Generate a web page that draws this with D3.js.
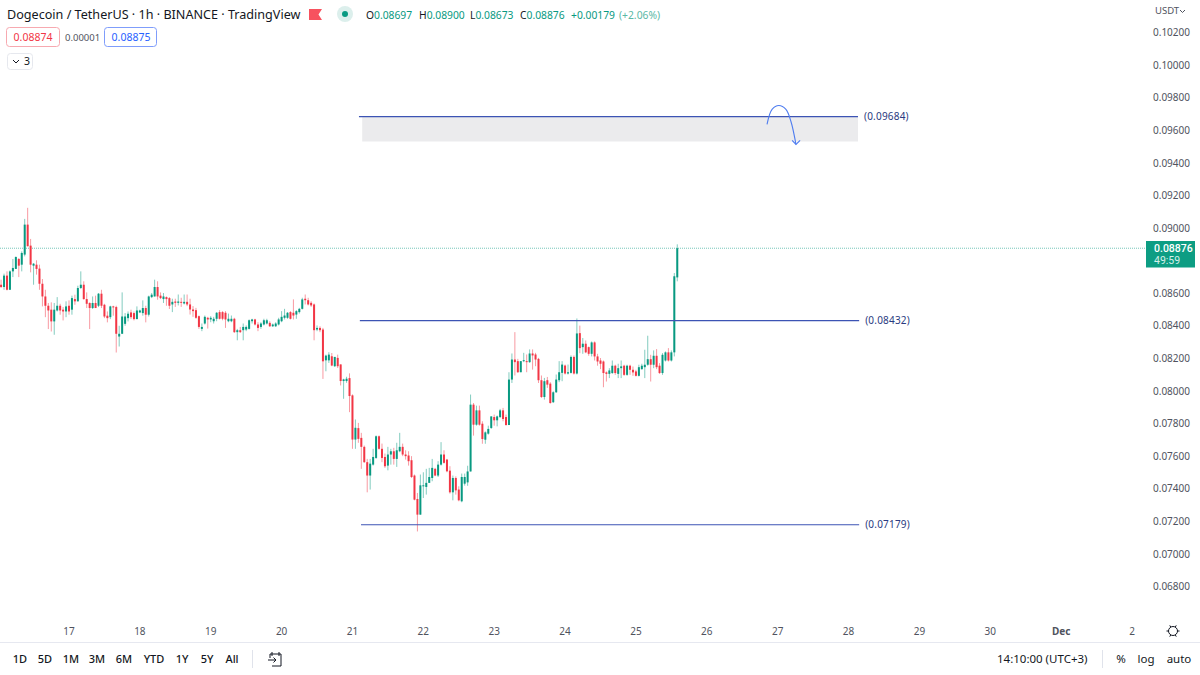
<!DOCTYPE html>
<html><head><meta charset="utf-8">
<script src="https://d3js.org/d3.v7.min.js"></script>
<style>html,body{margin:0;padding:0;background:#fff}svg{display:block}text{font-family:"Noto Sans",sans-serif}</style>
</head><body><svg id="c" width="1200" height="675"></svg>
<script>
// Candles are hourly; the first one opens at 2021-11-16 01:00.
const firstCandle = Date.UTC(2021,10,16,1);
const opens = [
.08652,.08638,.08708,.08621,.08734,.08749,.08810,.08775,.08837,.09021,
.08892,.08769,.08775,.08751,.08658,.08580,.08523,.08499,.08427,.08494,
.08523,.08499,.08488,.08523,.08499,.08564,.08550,.08632,.08652,.08564,
.08540,.08509,.08540,.08523,.08597,.08529,.08462,.08453,.08519,.08515,
.08334,.08351,.08412,.08447,.08482,.08478,.08441,.08482,.08478,.08509,
.08468,.08576,.08580,.08638,.08585,.08564,.08576,.08570,.08531,.08549,
.08541,.08547,.08537,.08547,.08531,.08500,.08496,.08459,.08381,.08414,
.08449,.08439,.08428,.08443,.08484,.08484,.08480,.08428,.08428,.08443,
.08361,.08373,.08373,.08377,.08381,.08428,.08439,.08408,.08393,.08408,
.08414,.08418,.08397,.08397,.08408,.08428,.08449,.08449,.08484,.08480,
.08469,.08484,.08504,.08566,.08557,.08541,.08531,.08377,.08387,.08377,
.08188,.08188,.08213,.08152,.08203,.08163,.08061,.08061,.08079,.07973,
.07702,.07772,.07712,.07657,.07563,.07481,.07548,.07589,.07722,.07645,
.07595,.07542,.07610,.07630,.07583,.07630,.07657,.07610,.07604,.07575,
.07481,.07337,.07241,.07415,.07411,.07436,.07466,.07522,.07481,.07548,
.07610,.07579,.07511,.07378,.07466,.07395,.07323,.07431,.07439,.07506,
.07916,.07793,.07881,.07799,.07701,.07738,.07773,.07840,.07820,.07840,
.07881,.07840,.07791,.08070,.08193,.08183,.08115,.08183,.08183,.08177,
.08230,.08224,.08197,.08066,.07963,.08066,.08045,.07931,.07992,.08066,
.08111,.08156,.08107,.08111,.08209,.08107,.08355,.08269,.08290,.08269,
.08228,.08298,.08212,.08187,.08181,.08114,.08105,.08110,.08155,.08105,
.08140,.08155,.08099,.08155,.08130,.08120,.08093,.08134,.08146,.08161,
.08195,.08161,.08216,.08155,.08110,.08187,.08237,.08187,.08237,.08697];
const highs = [
.08683,.08720,.08734,.08740,.08810,.08826,.08816,.08857,.09056,.09124,
.08933,.08785,.08802,.08775,.08687,.08621,.08540,.08544,.08540,.08576,
.08535,.08515,.08550,.08556,.08585,.08591,.08646,.08734,.08673,.08605,
.08544,.08580,.08585,.08601,.08621,.08535,.08488,.08523,.08523,.08523,
.08400,.08605,.08478,.08488,.08499,.08488,.08519,.08499,.08556,.08523,
.08585,.08601,.08683,.08673,.08605,.08601,.08580,.08576,.08566,.08566,
.08592,.08572,.08592,.08592,.08566,.08521,.08510,.08463,.08414,.08463,
.08455,.08459,.08455,.08484,.08496,.08490,.08490,.08475,.08463,.08449,
.08381,.08393,.08414,.08402,.08439,.08443,.08443,.08422,.08422,.08443,
.08443,.08428,.08414,.08422,.08449,.08490,.08504,.08484,.08490,.08562,
.08496,.08510,.08572,.08592,.08572,.08551,.08537,.08402,.08397,.08387,
.08223,.08238,.08233,.08209,.08223,.08163,.08075,.08087,.08108,.07979,
.07825,.07804,.07743,.07665,.07583,.07583,.07645,.07727,.07727,.07677,
.07616,.07657,.07645,.07651,.07682,.07743,.07677,.07636,.07630,.07600,
.07487,.07374,.07487,.07501,.07522,.07528,.07583,.07528,.07569,.07686,
.07636,.07583,.07538,.07481,.07476,.07415,.07493,.07493,.07541,.07978,
.07926,.07910,.07910,.07814,.07752,.07787,.07844,.07855,.07849,.07890,
.07896,.07855,.08115,.08230,.08361,.08197,.08183,.08234,.08224,.08255,
.08255,.08234,.08203,.08095,.08080,.08086,.08054,.07998,.08101,.08183,
.08183,.08162,.08162,.08218,.08218,.08445,.08401,.08325,.08310,.08273,
.08304,.08304,.08228,.08202,.08187,.08120,.08140,.08187,.08161,.08167,
.08187,.08161,.08161,.08161,.08150,.08130,.08161,.08167,.08253,.08339,
.08222,.08249,.08257,.08171,.08232,.08243,.08263,.08249,.08724,.08900];
const lows = [
.08632,.08621,.08617,.08621,.08699,.08749,.08699,.08734,.08826,.08888,
.08728,.08652,.08714,.08621,.08519,.08453,.08380,.08365,.08345,.08488,
.08468,.08433,.08453,.08468,.08468,.08529,.08550,.08626,.08560,.08509,
.08380,.08503,.08509,.08515,.08509,.08447,.08421,.08441,.08462,.08236,
.08273,.08351,.08400,.08427,.08441,.08433,.08441,.08478,.08462,.08421,
.08457,.08570,.08580,.08560,.08564,.08540,.08523,.08503,.08484,.08516,
.08525,.08516,.08531,.08521,.08469,.08455,.08443,.08381,.08367,.08408,
.08383,.08422,.08414,.08428,.08439,.08434,.08387,.08422,.08422,.08356,
.08311,.08356,.08311,.08367,.08377,.08414,.08402,.08367,.08381,.08402,
.08408,.08393,.08393,.08393,.08402,.08422,.08439,.08443,.08439,.08439,
.08443,.08475,.08500,.08531,.08525,.08516,.08311,.08367,.08361,.08074,
.08121,.08172,.08152,.08147,.08141,.08034,.07952,.08050,.07870,.07645,
.07645,.07682,.07522,.07559,.07378,.07395,.07542,.07583,.07640,.07563,
.07528,.07513,.07548,.07548,.07534,.07624,.07600,.07579,.07542,.07466,
.07329,.07138,.07241,.07343,.07364,.07436,.07446,.07477,.07472,.07542,
.07554,.07501,.07370,.07329,.07364,.07323,.07317,.07419,.07418,.07506,
.07726,.07787,.07787,.07676,.07676,.07732,.07767,.07787,.07783,.07834,
.07814,.07787,.07791,.08049,.08095,.08111,.08115,.08177,.08115,.08172,
.08131,.08152,.08049,.07957,.07947,.08019,.07922,.07926,.07988,.08054,
.08060,.08101,.08101,.08107,.08101,.08101,.08232,.08228,.08232,.08216,
.08212,.08187,.08155,.08134,.08023,.08058,.08079,.08105,.08099,.08079,
.08079,.08093,.08093,.08099,.08093,.08089,.08089,.08130,.08079,.08155,
.08058,.08140,.08134,.08105,.08099,.08181,.08181,.08181,.08212,.08673];
const closes = [
.08638,.08708,.08621,.08734,.08755,.08822,.08769,.08847,.09021,.08888,
.08775,.08781,.08749,.08658,.08580,.08523,.08494,.08427,.08499,.08523,
.08494,.08488,.08519,.08488,.08570,.08550,.08632,.08652,.08564,.08535,
.08509,.08540,.08509,.08597,.08523,.08457,.08447,.08519,.08513,.08351,
.08351,.08457,.08457,.08474,.08453,.08441,.08494,.08494,.08509,.08468,
.08580,.08591,.08638,.08580,.08570,.08580,.08564,.08523,.08547,.08541,
.08549,.08541,.08547,.08531,.08500,.08490,.08449,.08393,.08393,.08455,
.08439,.08449,.08443,.08480,.08443,.08443,.08439,.08443,.08443,.08361,
.08373,.08361,.08393,.08393,.08434,.08439,.08408,.08387,.08414,.08434,
.08434,.08397,.08408,.08414,.08439,.08455,.08463,.08480,.08443,.08463,
.08490,.08504,.08562,.08557,.08531,.08525,.08373,.08387,.08373,.08182,
.08217,.08223,.08156,.08209,.08152,.08061,.08071,.08075,.07969,.07702,
.07774,.07706,.07657,.07563,.07481,.07554,.07595,.07722,.07645,.07589,
.07538,.07610,.07630,.07583,.07636,.07657,.07610,.07600,.07569,.07472,
.07333,.07241,.07421,.07421,.07436,.07472,.07528,.07481,.07548,.07610,
.07559,.07507,.07378,.07466,.07390,.07329,.07472,.07472,.07506,.07916,
.07793,.07881,.07793,.07705,.07746,.07767,.07844,.07820,.07844,.07881,
.07828,.07791,.08070,.08193,.08177,.08115,.08183,.08189,.08177,.08230,
.08218,.08193,.08066,.07963,.08060,.08039,.07926,.07992,.08070,.08115,
.08162,.08107,.08115,.08209,.08107,.08353,.08263,.08290,.08237,.08228,
.08298,.08212,.08181,.08167,.08110,.08105,.08126,.08155,.08110,.08140,
.08151,.08099,.08155,.08130,.08114,.08093,.08146,.08155,.08161,.08195,
.08161,.08216,.08146,.08110,.08222,.08237,.08187,.08237,.08704,.08876];

const priceTicks = [.102,.1,.098,.096,.094,.092,.09,.086,.084,.082,.08,.078,.076,.074,.072,.07,.068];
const dayTicks = [17,18,19,20,21,22,23,24,25,26,27,28,29,30,'Dec',2];
const rangeButtons = ['1D','5D','1M','3M','6M','YTD','1Y','5Y','All'];
const levels = [.09684,.08432,.07179];
const levelStartHours = [98.2,98.5,98.9];   // hours after 17 Nov 00:00
const levelEndHours = [267.2,267.6,267.6];
const zone = {startHour:99.3,endHour:267.2,top:.09684,bottom:.09531};
const arrowHours = [236.4,238.1,240.4,242.8,244.5,246.2];
const arrowPrices = [.09636,.09728,.09752,.09728,.09654,.09513];
const arrowHeadHours = [244.9,246.2,247.6];
const arrowHeadPrices = [.09538,.09513,.09538];
const lastPrice = .08876;

const GREEN='#089981',RED='#f23645',INK='#131722',GREY='#50535e',LINE='#3c53b4';
const svg=d3.select('#c');
const H=3600e3, t0=Date.UTC(2021,10,17);
const x=d3.scaleUtc().domain([new Date(t0),new Date(Date.UTC(2021,11,2))]).range([69,1132]);
const xh=h=>x(new Date(t0+h*H));
const y=d3.scaleLinear().domain([.068,.102]).range([586.5,32.5]);

// axes
const py=svg.append('g').attr('transform','translate(1153,0)')
  .call(d3.axisRight(y).tickValues(priceTicks).tickSize(0).tickPadding(0).tickFormat(d3.format('.5f')));
py.select('.domain').remove();
py.selectAll('text').attr('font-size',10).attr('fill',GREY).style('font-family','"Noto Sans"');

const dayDate=d=>d==='Dec'?new Date(Date.UTC(2021,11,1)):d===2?new Date(Date.UTC(2021,11,2)):new Date(Date.UTC(2021,10,d));
const px=svg.append('g').attr('transform','translate(-0.5,631)')
  .call(d3.axisBottom(x).tickValues(dayTicks.map(dayDate)).tickSize(0).tickPadding(0)
    .tickFormat((d,i)=>dayTicks[i]));
px.select('.domain').remove();
px.selectAll('text').attr('dy','0.35em').attr('y',0).attr('font-size',10).attr('fill',GREY)
  .style('font-family','"Noto Sans"')
  .attr('font-weight',(d,i)=>dayTicks[i]==='Dec'?700:400);

// zone and levels
svg.append('rect').attr('x',xh(zone.startHour)).attr('y',y(zone.top))
  .attr('width',xh(zone.endHour)-xh(zone.startHour)).attr('height',y(zone.bottom)-y(zone.top)).attr('fill','#ebebed');

// last price line
svg.append('line').attr('x1',0).attr('x2',1146).attr('y1',y(lastPrice)).attr('y2',y(lastPrice))
  .attr('stroke',GREEN).attr('stroke-opacity',.55).attr('stroke-dasharray','1 1');

// candles
const idx=d3.range(opens.length);
const cx=i=>x(new Date(firstCandle+i*H));
const col=i=>closes[i]>=opens[i]?GREEN:RED;
svg.append('g').selectAll('line').data(idx).join('line')
  .attr('x1',cx).attr('x2',cx).attr('y1',i=>y(highs[i])).attr('y2',i=>y(lows[i]))
  .attr('stroke',col).attr('stroke-width',1).attr('stroke-opacity',.5);
svg.append('g').selectAll('rect').data(idx).join('rect')
  .attr('x',i=>cx(i)-1).attr('width',2)
  .attr('y',i=>y(Math.max(opens[i],closes[i])))
  .attr('height',i=>Math.max(1,Math.abs(y(opens[i])-y(closes[i]))))
  .attr('fill',col);

levels.forEach((v,i)=>{
  svg.append('line').attr('x1',xh(levelStartHours[i])).attr('x2',xh(levelEndHours[i]))
    .attr('y1',y(v)).attr('y2',y(v)).attr('stroke',LINE).attr('stroke-width',1.2);
  svg.append('text').attr('x',xh(levelEndHours[i])+6).attr('y',y(v)+3.6)
    .attr('font-size',10).attr('letter-spacing',.2).attr('fill','#2a3a80').text(`(${v.toFixed(5)})`);
});

// hand drawn arrow
const arrowLine=d3.line().x(d=>xh(d[0])).y(d=>y(d[1]));
svg.append('path').attr('d',arrowLine.curve(d3.curveCatmullRom)(d3.zip(arrowHours,arrowPrices)))
  .attr('fill','none').attr('stroke','#4f7df0').attr('stroke-width',1.1);
svg.append('path').attr('d',d3.line().x(d=>xh(d[0])).y(d=>y(d[1]))(d3.zip(arrowHeadHours,arrowHeadPrices)))
  .attr('fill','none').attr('stroke','#4f7df0').attr('stroke-width',1.1);

// helper
const txt=(s,xp,yp,o={})=>svg.append('text').attr('x',xp).attr('y',yp).attr('font-size',o.size||11)
  .attr('fill',o.fill||INK).attr('text-anchor',o.anchor||'start').attr('font-weight',o.weight||400)
  .style('font-family',o.font||null).text(s);

// header
txt('Dogecoin / TetherUS · 1h · BINANCE · TradingView',7,19,{size:12.6});
svg.append('path').attr('d','M309 9H322L318.5 14.5L322 20H309Z').attr('fill','#f7525f');
svg.append('circle').attr('cx',345).attr('cy',14).attr('r',8).attr('fill','#dcefec');
svg.append('circle').attr('cx',345).attr('cy',14).attr('r',3).attr('fill',GREEN);
const ohlc=[['O','0.08697',366],['H','0.08900',419],['L','0.08673',470],['C','0.08876',520]];
ohlc.forEach(([k,v,xp])=>{
  const t=txt(k,xp,19,{size:10.3});
  t.append('tspan').attr('fill',GREEN).text(v);
});
txt('+0.00179',571,19,{size:10.3,fill:GREEN});
txt('(+2.06%)',619,19,{size:10.3,fill:'#5bb8a6'});

svg.append('rect').attr('x',6.5).attr('y',27.5).attr('width',53).attr('height',19).attr('rx',3)
  .attr('fill','#fff').attr('stroke','#f7a9b0');
txt('0.08874',33,41,{size:10.5,fill:RED,anchor:'middle'});
txt('0.00001',65,41,{size:9.5,fill:GREY});
svg.append('rect').attr('x',104.5).attr('y',27.5).attr('width',52).attr('height',19).attr('rx',3)
  .attr('fill','#fff').attr('stroke','#7f9dfb');
txt('0.08875',131,41,{size:10.5,fill:'#2962ff',anchor:'middle'});
svg.append('rect').attr('x',7.5).attr('y',53.5).attr('width',25).attr('height',16).attr('rx',3)
  .attr('fill','#fff').attr('stroke','#e6e8ee');
svg.append('path').attr('d','M13 60L16 63L19 60').attr('fill','none').attr('stroke',INK);
txt('3',24,65,{size:10.5});

// price axis header and tag
txt('USDT',1155,14,{size:9.5,fill:GREY});
svg.append('path').attr('d','M1180 10L1182.5 12.5L1185 10').attr('fill','none').attr('stroke',GREY);
svg.append('rect').attr('x',1146).attr('y',241).attr('width',49).attr('height',26.5).attr('fill','#0d9d83');
txt('0.08876',1154,252,{size:10.5,fill:'#fff',weight:500,font:'Roboto'});
txt('49:59',1154,264,{size:10.5,fill:'#d5efe9',font:'Roboto'});

// gear
svg.append('circle').attr('cx',1173).attr('cy',631).attr('r',4.5).attr('fill','none').attr('stroke',INK).attr('stroke-width',1);
svg.append('g').selectAll('line').data(d3.range(0,360,60)).join('line')
  .attr('x1',d=>1173+4.5*Math.cos(d*Math.PI/180)).attr('y1',d=>631+4.5*Math.sin(d*Math.PI/180))
  .attr('x2',d=>1173+6.5*Math.cos(d*Math.PI/180)).attr('y2',d=>631+6.5*Math.sin(d*Math.PI/180))
  .attr('stroke',INK);

// bottom toolbar
svg.append('line').attr('x1',0).attr('x2',1200).attr('y1',642.5).attr('y2',642.5).attr('stroke','#e6e8f0');
const btnX=[20,45,71,97,124,154,182,207,232];
rangeButtons.forEach((b,i)=>txt(b,btnX[i],663,{size:11,anchor:'middle',weight:500}));
svg.append('line').attr('x1',252.5).attr('x2',252.5).attr('y1',650).attr('y2',668).attr('stroke','#e0e3eb');
svg.append('path').attr('d','M270 654H281V666H272M268 660H276M273.5 657.5L276 660L273.5 662.5M272 652V656M279 652V656M270 654V658')
  .attr('fill','none').attr('stroke',INK).attr('stroke-width',1);
txt('14:10:00 (UTC+3)',997,663,{size:11.5});
svg.append('line').attr('x1',1102.5).attr('x2',1102.5).attr('y1',650).attr('y2',668).attr('stroke','#e0e3eb');
txt('%',1121,663,{size:11.5,anchor:'middle'});
txt('log',1146,663,{size:11.5,anchor:'middle'});
txt('auto',1179,663,{size:11.5,anchor:'middle'});
</script></body></html>
